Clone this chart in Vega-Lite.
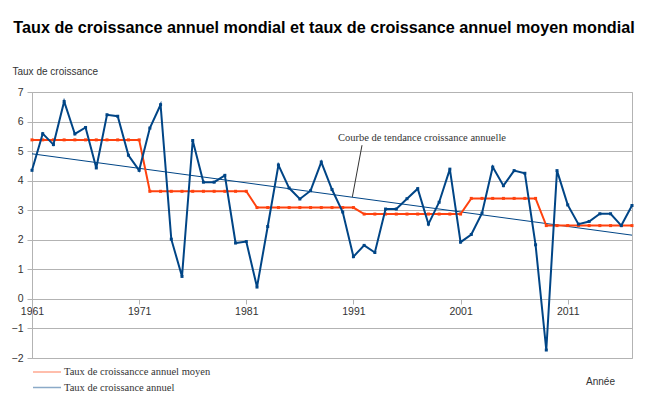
{
  "$schema": "https://vega.github.io/schema/vega-lite/v6.json",
  "width": 600,
  "height": 266,
  "autosize": "none",
  "padding": {"left": 32, "top": 92, "right": 29, "bottom": 44},
  "background": "white",
  "title": {
    "text": "Taux de croissance annuel mondial et taux de croissance annuel moyen mondial",
    "font": "Liberation Sans",
    "fontSize": 16.2,
    "fontWeight": "bold",
    "color": "#000000",
    "anchor": "middle",
    "dx": -8,
    "offset": 30
  },
  "config": {
    "view": {"stroke": "#b3b3b3", "strokeWidth": 1},
    "axis": {
      "labelFont": "Liberation Sans",
      "labelFontSize": 10.5,
      "labelColor": "#333333",
      "titleFont": "Liberation Sans",
      "titleFontSize": 10,
      "titleFontWeight": "normal",
      "titleColor": "#333333",
      "gridColor": "#b3b3b3",
      "domainColor": "#b3b3b3",
      "tickColor": "#b3b3b3"
    },
    "legend": {
      "orient": "none",
      "legendX": 0,
      "legendY": 272,
      "labelFont": "Liberation Serif",
      "labelFontSize": 10.5,
      "labelColor": "#333333",
      "symbolType": "M-1,0H3",
      "symbolSize": 196,
      "symbolStrokeWidth": 1.5,
      "symbolOpacity": 0.45,
      "labelOffset": 16,
      "rowPadding": 1.5,
      "title": null
    }
  },
  "data": {
    "values": [
      {"annee": 1961, "annuel": 4.35, "moyen": 5.38},
      {"annee": 1962, "annuel": 5.59, "moyen": 5.38},
      {"annee": 1963, "annuel": 5.22, "moyen": 5.38},
      {"annee": 1964, "annuel": 6.68, "moyen": 5.38},
      {"annee": 1965, "annuel": 5.58, "moyen": 5.38},
      {"annee": 1966, "annuel": 5.80, "moyen": 5.38},
      {"annee": 1967, "annuel": 4.43, "moyen": 5.38},
      {"annee": 1968, "annuel": 6.23, "moyen": 5.38},
      {"annee": 1969, "annuel": 6.18, "moyen": 5.38},
      {"annee": 1970, "annuel": 4.86, "moyen": 5.38},
      {"annee": 1971, "annuel": 4.35, "moyen": 5.38},
      {"annee": 1972, "annuel": 5.78, "moyen": 3.64},
      {"annee": 1973, "annuel": 6.57, "moyen": 3.64},
      {"annee": 1974, "annuel": 2.02, "moyen": 3.64},
      {"annee": 1975, "annuel": 0.76, "moyen": 3.64},
      {"annee": 1976, "annuel": 5.36, "moyen": 3.64},
      {"annee": 1977, "annuel": 3.95, "moyen": 3.64},
      {"annee": 1978, "annuel": 3.95, "moyen": 3.64},
      {"annee": 1979, "annuel": 4.18, "moyen": 3.64},
      {"annee": 1980, "annuel": 1.89, "moyen": 3.64},
      {"annee": 1981, "annuel": 1.94, "moyen": 3.64},
      {"annee": 1982, "annuel": 0.40, "moyen": 3.09},
      {"annee": 1983, "annuel": 2.45, "moyen": 3.09},
      {"annee": 1984, "annuel": 4.53, "moyen": 3.09},
      {"annee": 1985, "annuel": 3.75, "moyen": 3.09},
      {"annee": 1986, "annuel": 3.38, "moyen": 3.09},
      {"annee": 1987, "annuel": 3.66, "moyen": 3.09},
      {"annee": 1988, "annuel": 4.63, "moyen": 3.09},
      {"annee": 1989, "annuel": 3.70, "moyen": 3.09},
      {"annee": 1990, "annuel": 2.94, "moyen": 3.09},
      {"annee": 1991, "annuel": 1.43, "moyen": 3.09},
      {"annee": 1992, "annuel": 1.81, "moyen": 2.87},
      {"annee": 1993, "annuel": 1.57, "moyen": 2.87},
      {"annee": 1994, "annuel": 3.04, "moyen": 2.87},
      {"annee": 1995, "annuel": 3.04, "moyen": 2.87},
      {"annee": 1996, "annuel": 3.39, "moyen": 2.87},
      {"annee": 1997, "annuel": 3.73, "moyen": 2.87},
      {"annee": 1998, "annuel": 2.53, "moyen": 2.87},
      {"annee": 1999, "annuel": 3.27, "moyen": 2.87},
      {"annee": 2000, "annuel": 4.39, "moyen": 2.87},
      {"annee": 2001, "annuel": 1.92, "moyen": 2.87},
      {"annee": 2002, "annuel": 2.18, "moyen": 3.40},
      {"annee": 2003, "annuel": 2.90, "moyen": 3.40},
      {"annee": 2004, "annuel": 4.46, "moyen": 3.40},
      {"annee": 2005, "annuel": 3.83, "moyen": 3.40},
      {"annee": 2006, "annuel": 4.34, "moyen": 3.40},
      {"annee": 2007, "annuel": 4.25, "moyen": 3.40},
      {"annee": 2008, "annuel": 1.83, "moyen": 3.40},
      {"annee": 2009, "annuel": -1.73, "moyen": 2.48},
      {"annee": 2010, "annuel": 4.34, "moyen": 2.48},
      {"annee": 2011, "annuel": 3.18, "moyen": 2.48},
      {"annee": 2012, "annuel": 2.53, "moyen": 2.48},
      {"annee": 2013, "annuel": 2.62, "moyen": 2.48},
      {"annee": 2014, "annuel": 2.88, "moyen": 2.48},
      {"annee": 2015, "annuel": 2.88, "moyen": 2.48},
      {"annee": 2016, "annuel": 2.48, "moyen": 2.48},
      {"annee": 2017, "annuel": 3.16, "moyen": 2.48}
    ]
  },
  "layer": [
    {
      "transform": [{"regression": "annuel", "on": "annee", "extent": [1961, 2017]}],
      "mark": {"type": "line", "color": "#004586", "strokeWidth": 1},
      "encoding": {
        "x": {
          "field": "annee",
          "type": "quantitative",
          "scale": {"domain": [1961, 2017], "nice": false, "zero": false},
          "axis": {
            "values": [1961, 1971, 1981, 1991, 2001, 2011],
            "format": "d",
            "grid": false,
            "domain": false,
            "ticks": true,
            "tickSize": 5,
            "labelPadding": 2,
            "labelFlush": false,
            "labelOverlap": false,
            "offset": -59,
            "title": "Année",
            "titleX": 568,
            "titleY": 82,
            "titleAlign": "center",
            "titleBaseline": "middle"
          }
        },
        "y": {
          "field": "annuel",
          "type": "quantitative",
          "scale": {"domain": [-2, 7], "nice": false, "zero": false},
          "axis": {
            "values": [-2, -1, 0, 1, 2, 3, 4, 5, 6, 7],
            "tickCount": 10,
            "grid": true,
            "domain": true,
            "ticks": true,
            "tickSize": 5,
            "labelPadding": 4,
            "labelFlush": false,
            "labelOverlap": false,
            "title": "Taux de croissance",
            "titleAngle": 0,
            "titleAlign": "left",
            "titleBaseline": "middle",
            "titleX": -20,
            "titleY": -21
          }
        }
      }
    },
    {
      "mark": {"type": "line", "strokeWidth": 2, "point": {"shape": "square", "size": 9, "filled": true}},
      "encoding": {
        "x": {
          "field": "annee",
          "type": "quantitative",
          "scale": {"domain": [1961, 2017], "nice": false, "zero": false},
          "axis": {
            "values": [1961, 1971, 1981, 1991, 2001, 2011],
            "format": "d",
            "grid": false,
            "domain": false,
            "ticks": true,
            "tickSize": 5,
            "labelPadding": 2,
            "labelFlush": false,
            "labelOverlap": false,
            "offset": -59,
            "title": "Année",
            "titleX": 568,
            "titleY": 82,
            "titleAlign": "center",
            "titleBaseline": "middle"
          }
        },
        "y": {
          "field": "moyen",
          "type": "quantitative",
          "scale": {"domain": [-2, 7], "nice": false, "zero": false},
          "axis": {
            "values": [-2, -1, 0, 1, 2, 3, 4, 5, 6, 7],
            "tickCount": 10,
            "grid": true,
            "domain": true,
            "ticks": true,
            "tickSize": 5,
            "labelPadding": 4,
            "labelFlush": false,
            "labelOverlap": false,
            "title": "Taux de croissance",
            "titleAngle": 0,
            "titleAlign": "left",
            "titleBaseline": "middle",
            "titleX": -20,
            "titleY": -21
          }
        },
        "color": {
          "datum": "Taux de croissancce annuel moyen",
          "type": "nominal",
          "scale": {
            "domain": ["Taux de croissancce annuel moyen", "Taux de croissance annuel"],
            "range": ["#ff420e", "#004586"]
          }
        }
      }
    },
    {
      "mark": {"type": "line", "strokeWidth": 2, "point": {"shape": "square", "size": 9, "filled": true}},
      "encoding": {
        "x": {
          "field": "annee",
          "type": "quantitative",
          "scale": {"domain": [1961, 2017], "nice": false, "zero": false},
          "axis": {
            "values": [1961, 1971, 1981, 1991, 2001, 2011],
            "format": "d",
            "grid": false,
            "domain": false,
            "ticks": true,
            "tickSize": 5,
            "labelPadding": 2,
            "labelFlush": false,
            "labelOverlap": false,
            "offset": -59,
            "title": "Année",
            "titleX": 568,
            "titleY": 82,
            "titleAlign": "center",
            "titleBaseline": "middle"
          }
        },
        "y": {
          "field": "annuel",
          "type": "quantitative",
          "scale": {"domain": [-2, 7], "nice": false, "zero": false},
          "axis": {
            "values": [-2, -1, 0, 1, 2, 3, 4, 5, 6, 7],
            "tickCount": 10,
            "grid": true,
            "domain": true,
            "ticks": true,
            "tickSize": 5,
            "labelPadding": 4,
            "labelFlush": false,
            "labelOverlap": false,
            "title": "Taux de croissance",
            "titleAngle": 0,
            "titleAlign": "left",
            "titleBaseline": "middle",
            "titleX": -20,
            "titleY": -21
          }
        },
        "color": {"datum": "Taux de croissance annuel", "type": "nominal"}
      }
    },
    {
      "data": {"values": [{}]},
      "mark": {"type": "rule", "color": "#333333", "strokeWidth": 1},
      "encoding": {
        "x": {"datum": 1991.8},
        "y": {"datum": 5.2},
        "x2": {"datum": 1990.9},
        "y2": {"datum": 3.45}
      }
    },
    {
      "data": {"values": [{}]},
      "mark": {"type": "text", "font": "Liberation Serif", "fontSize": 10.5, "color": "#333333", "align": "center", "baseline": "middle"},
      "encoding": {
        "x": {"datum": 1997.4},
        "y": {"datum": 5.44},
        "text": {"value": "Courbe de tendance croissance annuelle"}
      }
    }
  ]
}
